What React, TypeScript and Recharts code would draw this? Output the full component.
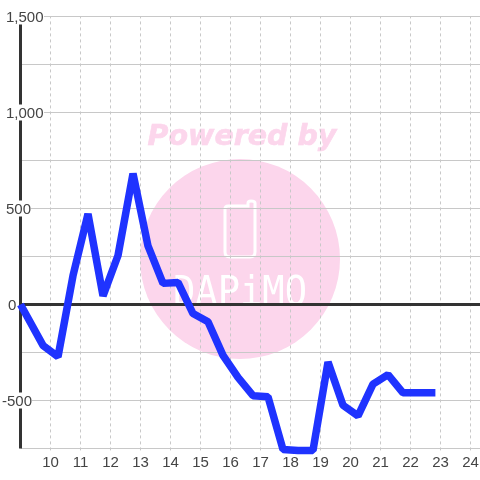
import React from 'react';
import { ComposedChart, Line, XAxis, YAxis, ReferenceLine } from 'recharts';

const hours = [9, 9.75, 10.25, 10.75, 11.25, 11.75, 12.25, 12.75, 13.25, 13.75, 14.25, 14.75, 15.25, 15.75, 16.25, 16.75, 17.25, 17.75, 18.25, 18.75, 19.25, 19.75, 20.25, 20.75, 21.25, 21.75, 22.25, 22.83];
const values = [0, -213, -272, 150, 472, 45, 255, 682, 305, 110, 115, -47, -90, -265, -380, -475, -480, -755, -760, -760, -300, -525, -580, -415, -365, -460, -460, -460];
const xTicks = [10, 11, 12, 13, 14, 15, 16, 17, 18, 19, 20, 21, 22, 23, 24];
const yTicks = [-750, -500, -250, 0, 250, 500, 750, 1000, 1250, 1500];
const yLabels: Record<number, string> = { 1500: '1,500', 1000: '1,000', 500: '500', 0: '0', [-500]: '-500' };
const data = hours.map((h, i) => ({ h, v: values[i] }));

const FONT = '"Liberation Sans", Arial, sans-serif';
const PINK = '#fcd6ec';

const YTick = (props: any) => {
  const { y, payload } = props;
  const label = yLabels[payload.value];
  if (!label) return <g />;
  const layout: Record<string, [number, number]> = {
    '1,500': [6, 38], '1,000': [6, 38], '500': [6, 25], '0': [8, 9], '-500': [2, 30],
  };
  const [tx, w] = layout[label];
  return (
    <g>
      <rect x={tx - 1} y={y - 8} width={w + 1} height={16} fill="#fff" />
      <text x={tx} y={y + 5} fontSize={15} fontFamily={FONT} fill="#444">{label}</text>
    </g>
  );
};

const Watermark = () => (
  <svg width={480} height={480} style={{ position: 'absolute', left: 0, top: 0 }}>
    <circle cx={240} cy={259} r={100} fill={PINK} />
    <text x={242} y={145} textAnchor="middle" fontSize={28.5} fontWeight="bold" fontStyle="italic" fontFamily='"DejaVu Sans", sans-serif' fill={PINK} stroke={PINK} strokeWidth={0.6}>Powered by</text>
    <path d="M228 206 H248 V203 Q248 201 251 201 Q255 201 255 203 V252 Q255 257 250 257 H230 Q225 257 225 252 V209 Q225 206 228 206 Z" fill="none" stroke="#fff" strokeWidth={3} />
    <text x={240} y={305} textAnchor="middle" fontSize={40} fontFamily='"DejaVu Sans Mono", monospace' fill="#fff" textLength={134} lengthAdjust="spacingAndGlyphs">DAPiMO</text>
  </svg>
);

export default function App() {
  return (
    <div style={{ position: 'fixed', left: 0, top: 0, width: 480, height: 480 }}>
      <Watermark />
      <div style={{ position: 'absolute', left: 0, top: 0 }}>
        <ComposedChart width={480} height={480} data={data} margin={{ top: 16.5, right: 0, bottom: 0, left: 0 }}>
          {yTicks.map((t) => (
            <ReferenceLine key={`h${t}`} y={t} stroke="#c8c8c8" />
          ))}
          {xTicks.map((t) => (
            <ReferenceLine key={t} x={t} stroke="#c8c8c8" strokeDasharray="3 3" />
          ))}
          <XAxis dataKey="h" type="number" domain={[9, 24.3167]} ticks={xTicks} interval={0} allowDecimals={false} axisLine={false} tickLine={false} tick={{ fontSize: 15, fontFamily: FONT, fill: '#444' }} tickMargin={0} height={29.58} />
          <YAxis type="number" domain={[-760, 1500]} ticks={yTicks} interval={0} width={20.5} axisLine={false} tickLine={false} tick={<YTick />} />
          <ReferenceLine segment={[{ x: 9, y: -750 }, { x: 9, y: 1500 }]} stroke="#333" strokeWidth={3} />
          <ReferenceLine y={0} stroke="#333" strokeWidth={3} />
          <Line dataKey="v" type="linear" stroke="#1f33ff" strokeWidth={7.5} strokeLinejoin="bevel" dot={false} activeDot={false} isAnimationActive={false} />
        </ComposedChart>
      </div>
    </div>
  );
}
